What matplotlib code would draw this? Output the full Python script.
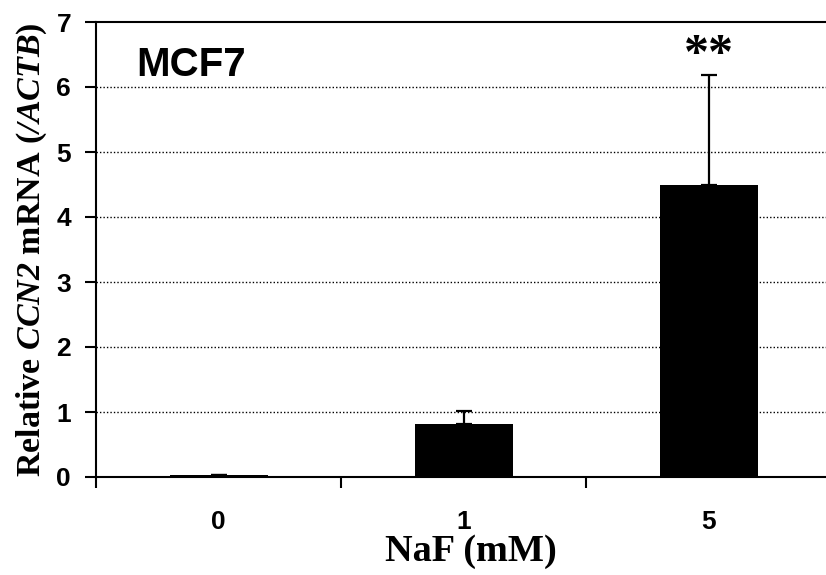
import numpy as np
import matplotlib.pyplot as plt

# data
doses = ["0", "1", "5"]
means = [0.03, 0.81, 4.50]
errs = [0.0, 0.21, 1.68]
yticks = [0, 1, 2, 3, 4, 5, 6, 7]

# math parts of the y label are the italic gene names
plt.rcParams["mathtext.fontset"] = "custom"
plt.rcParams["mathtext.it"] = "Liberation Serif:bold:italic"
plt.rcParams["mathtext.rm"] = "Liberation Serif:bold:italic"

fig = plt.figure(figsize=(8.26, 5.75), dpi=100)
ax = fig.add_axes([96 / 826, 1 - 477 / 575, 1 - 96 / 826, 455 / 575])

x = np.arange(len(doses))
ax.bar(x, means, width=0.4, color="black", zorder=3)
ax.errorbar(x, means, yerr=[np.zeros(len(errs)), errs], fmt="none",
            ecolor="black", elinewidth=1.6, capsize=6, capthick=1.6, zorder=4)

ax.set_xlim(-0.5, 2.478)
ax.set_ylim(0, 7)
ax.set_yticks(yticks)
ax.set_yticklabels([str(t) for t in yticks], fontfamily="Liberation Sans",
                   fontweight="bold", fontsize=19)
ax.set_xticks(x)
ax.set_xticklabels(doses, fontfamily="Liberation Sans", fontweight="bold", fontsize=19)
ax.set_xticks([-0.5, 0.5, 1.5], minor=True)
ax.tick_params(axis="x", which="major", length=0, pad=24)
ax.tick_params(axis="x", which="minor", length=8, width=1.5, color="black")
ax.tick_params(axis="y", length=8, width=1.5, pad=10, direction="out")

for v in yticks[1:-1]:
    ax.axhline(v, color="black", linestyle=(0, (1, 1.5)), linewidth=1.0, zorder=1)

for s in ["left", "bottom", "top"]:
    ax.spines[s].set_linewidth(1.5)
ax.spines["right"].set_visible(False)

ax.set_ylabel(r"Relative $CCN2$ mRNA ($/ACTB$)",
              fontfamily="Liberation Serif", fontweight="bold", fontsize=24.5, labelpad=5)
ax.set_xlabel("NaF (mM)", fontfamily="Liberation Serif", fontweight="bold",
              fontsize=27.5, labelpad=0)
ax.xaxis.label.set_x(0.514)

ax.text(0.055, 0.948, "MCF7", transform=ax.transAxes, fontfamily="Liberation Sans",
        fontweight="bold", fontsize=29, va="top", ha="left")
ax.text(2, 6.48, "**", fontfamily="Liberation Serif", fontweight="bold",
        fontsize=36, ha="center", va="center")

fig.savefig("out.png", dpi=100)
